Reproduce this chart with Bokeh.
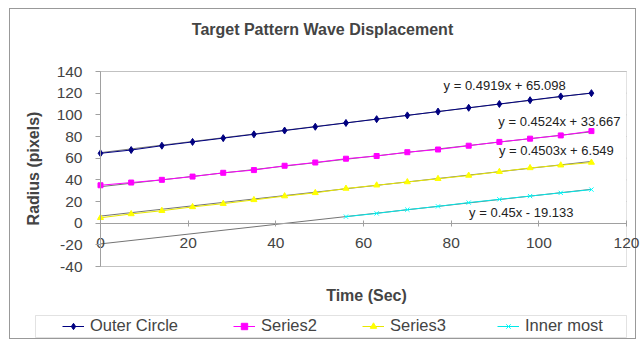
import math

from bokeh.plotting import figure
from bokeh.models import (Range1d, LinearAxis, FixedTicker, Legend, LegendItem,
                          Label, BoxAnnotation, CustomJSTickFormatter)
from bokeh.embed import file_html
from bokeh.resources import INLINE

# --- data -------------------------------------------------------------
time_sec = [0, 7, 14, 21, 28, 35, 42, 49, 56, 63, 70, 77, 84, 91, 98, 105, 112]
outer_circle = [64.5, 67.5, 71.5, 75, 78.5, 82, 85.5, 89, 92.5, 96, 99.5, 103,
                106.5, 110, 113.5, 117, 120]
series2 = [35, 37.5, 40, 43, 46.5, 49, 53, 56, 59.5, 62, 65.5, 68, 71.5, 75, 78, 81, 85]
series3 = [5, 8.5, 11.5, 15, 18, 21.5, 25, 28, 32, 35, 38, 41, 44, 47.5, 51, 53.5, 56]
inner_time = [56, 63, 70, 77, 84, 91, 98, 105, 112]
inner_most = [6, 9, 12.5, 15.5, 19, 22, 25, 28, 31]

series_names = ["Outer Circle", "Series2", "Series3", "Inner most"]
trend_slopes = [0.4919, 0.4524, 0.4503, 0.45]
trend_intercepts = [65.098, 33.667, 6.549, -19.133]
trend_labels = ["y = 0.4919x + 65.098", "y = 0.4524x + 33.667",
                "y = 0.4503x + 6.549", "y = 0.45x - 19.133"]

x_ticks = [0, 20, 40, 60, 80, 100, 120]
y_ticks = [-40, -20, 0, 20, 40, 60, 80, 100, 120, 140]

# --- page geometry (pixels) ---------------------------------------------
W, H = 644, 342
AREA_L, AREA_R, AREA_T, AREA_B = 100, 626, 71, 266   # plot area inside the chart
FONT = "Liberation Sans"
GRID = "#a0a0a0"

# The frame fills the whole chart, so the ranges are widened until the
# plot area lands where it belongs.
x0, x1 = x_ticks[0], x_ticks[-1]
y0, y1 = y_ticks[0], y_ticks[-1]
kx = (x1 - x0) / (AREA_R - AREA_L)
ky = (y1 - y0) / (AREA_B - AREA_T)
x_range = Range1d(x0 - AREA_L * kx, x1 + (W - AREA_R) * kx)
y_range = Range1d(y0 - (H - AREA_B) * ky, y1 + AREA_T * ky)

p = figure(width=W, height=H, output_backend="svg", toolbar_location=None,
           x_range=x_range, y_range=y_range,
           x_axis_location=None, y_axis_location=None, min_border=0,
           background_fill_color="white", border_fill_color="white")
p.grid.visible = False
p.outline_line_color = None
p.title.visible = False

# grey frame around the whole chart
edge = "linear-gradient(#999999,#999999)"
p.styles = {
    "background-color": "white",
    "background-image": ", ".join([edge] * 4),
    "background-position": "9px 8px, 9px 338px, 9px 8px, 635px 8px",
    "background-size": "627px 1px, 627px 1px, 1px 331px, 1px 331px",
    "background-repeat": "no-repeat",
}
p.background_fill_alpha = 0
p.border_fill_alpha = 0

# plot area with horizontal gridlines
p.add_layout(BoxAnnotation(left=x0, right=x1, bottom=y0, top=y1, level="underlay",
                           fill_color="white", fill_alpha=1, line_color=GRID,
                           line_width=1))
p.segment(x0=[x0] * len(y_ticks), x1=[x1] * len(y_ticks), y0=y_ticks, y1=y_ticks,
          line_color=GRID, line_width=1, level="underlay")

plain_numbers = CustomJSTickFormatter(code="return String(tick)")

# y axis along x = 0
yax = LinearAxis(ticker=FixedTicker(ticks=y_ticks), fixed_location=x0,
                 bounds=(y0, y1), formatter=plain_numbers)
yax.axis_line_color = GRID
yax.major_tick_line_color = GRID
yax.major_tick_out = 5
yax.major_tick_in = 0
yax.minor_tick_line_color = None
yax.major_label_text_font = FONT
yax.major_label_text_font_size = "15.5px"
yax.major_label_standoff = 13
p.add_layout(yax, "left")

# x axis crosses at y = 0, labels hang just below it
xax = LinearAxis(ticker=FixedTicker(ticks=x_ticks), fixed_location=0,
                 bounds=(x0, x1), formatter=plain_numbers)
xax.axis_line_color = GRID
xax.major_tick_line_color = GRID
xax.major_tick_out = 3
xax.major_tick_in = 3
xax.minor_tick_line_color = None
xax.major_label_text_font = FONT
xax.major_label_text_font_size = "15.5px"
xax.major_label_standoff = 12
p.add_layout(xax, "below")

# titles
p.add_layout(Label(x=W / 2, y=H - 29, x_units="screen", y_units="screen",
                   text="Target Pattern Wave Displacement", text_align="center",
                   text_baseline="alphabetic", text_font=FONT,
                   text_font_size="16px", text_font_style="bold"))
p.add_layout(Label(x=33, y=H - 168, x_units="screen", y_units="screen",
                   text="Radius (pixels)", angle=math.pi / 2, text_align="center",
                   text_baseline="middle", text_font=FONT,
                   text_font_size="16px", text_font_style="bold"))
p.add_layout(Label(x=366, y=H - 295, x_units="screen", y_units="screen",
                   text="Time (Sec)", text_align="center", text_baseline="middle",
                   text_font=FONT, text_font_size="16px", text_font_style="bold"))

# series, markers and trendlines
colors = ["#000080", "#ff00ff", "#ffff00", "#00ffff"]
line_colors = ["#000080", "#ff00ff", "#e8e800", "#00e8e8"]
markers = ["diamond", "square", "triangle", "x"]
sizes = [7, 5, 6, 6]
xs = [time_sec, time_sec, time_sec, inner_time]
ys = [outer_circle, series2, series3, inner_most]

legend_renderers = []
for i in range(4):
    t0, t1 = 0, xs[i][-1]
    p.line([t0, t1], [trend_intercepts[i] + trend_slopes[i] * t0,
                      trend_intercepts[i] + trend_slopes[i] * t1],
           line_color="#000000", line_width=1, line_alpha=0.55)
    lr = p.line(xs[i], ys[i], line_color=line_colors[i], line_width=1)
    sr = p.scatter(xs[i], ys[i], marker=markers[i], size=sizes[i],
                   fill_color=colors[i], line_color=colors[i])
    legend_renderers.append([lr, sr])

# trendline equations
eq_pos = [(92.2, 127.4), (104.7, 94.2), (104.0, 67.1), (96.0, 9.5)]
for (ex, ey), txt in zip(eq_pos, trend_labels):
    p.add_layout(Label(x=ex, y=ey, text=txt, text_align="center",
                       text_baseline="middle", text_font=FONT,
                       text_font_size="13px", text_color="#222222"))

# legend: one box, four evenly placed entries
p.add_layout(BoxAnnotation(left=35, right=626, bottom=H - 337, top=H - 315,
                           left_units="screen", right_units="screen",
                           bottom_units="screen", top_units="screen",
                           fill_color="white", fill_alpha=1, line_color=GRID,
                           line_width=1))
item_x = [62, 233, 362, 497]
for i in range(4):
    p.add_layout(Legend(items=[LegendItem(label=series_names[i],
                                          renderers=legend_renderers[i])],
                        location=(item_x[i], 7),
                        label_text_font=FONT, label_text_font_size="16.5px",
                        glyph_width=22, glyph_height=16, label_standoff=6,
                        label_height=16, padding=0, margin=0,
                        border_line_color=None, background_fill_alpha=0))

open("out.html", "w").write(file_html(p, INLINE))
